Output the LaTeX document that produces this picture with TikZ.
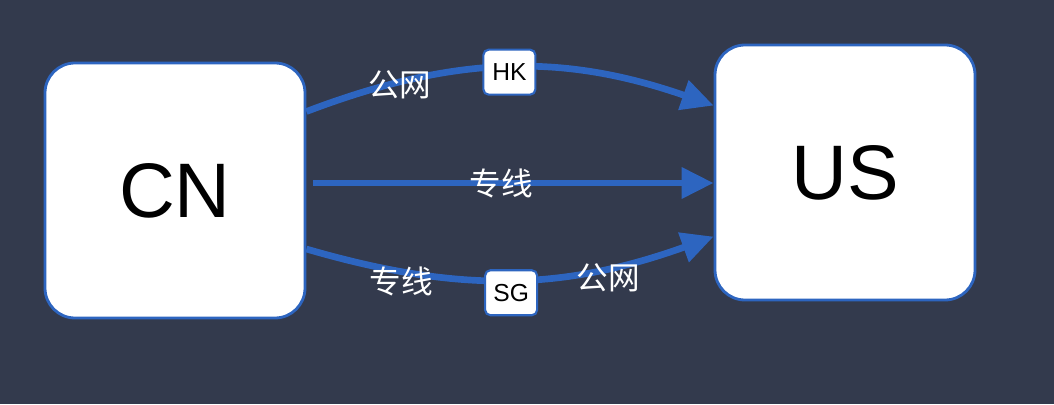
\documentclass[tikz,border=0pt]{standalone}
\usepackage{fontspec}
\setmainfont{Liberation Sans}
\newfontfamily\cjk{Noto Sans CJK SC}
\usetikzlibrary{arrows.meta,calc,positioning}

\definecolor{bgnavy}{HTML}{333A4D}
\definecolor{linkblue}{HTML}{2D65C0}

\begin{document}
\begin{tikzpicture}[
  >={Triangle[length=0.64cm, width=0.6cm]},
  region/.style={draw=linkblue, line width=1.6pt, fill=white, rounded corners=0.6cm,
                 minimum width=5.2cm, minimum height=5.1cm, font=\fontsize{44}{48}\selectfont},
  hop/.style={draw=linkblue, line width=1.2pt, fill=white, text=black, rounded corners=3pt,
              minimum width=1.04cm, minimum height=0.9cm, inner sep=1pt,
              font=\fontsize{14}{16}\selectfont},
  tag/.style={text=white, font=\cjk\fontsize{18}{20}\selectfont, inner sep=1pt},
  link/.style={->, linkblue, line width=3.8pt},
]

%% background and bounding box
\fill[bgnavy] (0,0) rectangle (21.08,8.08);
\useasboundingbox (0,0) rectangle (21.08,8.08);

%% regions
\node[region] (cn) at (3.5, 4.27)  {CN};
\node[region] (us) at (16.9, 4.63) {US};

%% via HK (public internet)
\draw[link] (cn.31) to[bend left=20]
    node[pos=0.22, tag, yshift=-0.05cm] (hknet) {公网}
    node[pos=0.5, hop, yshift=-0.09cm] (hk) {HK} (us.153);

%% direct line
\draw[link] ([xshift=0.14cm, yshift=0.15cm]cn.east) --
    node[pos=0.47, tag] (direct) {专线} ([yshift=0.15cm]cn.east -| us.west);

%% via SG (leased line, then public internet)
\draw[link] (cn.-24) to[bend right=18]
    node[pos=0.22, tag, yshift=-0.2cm] (sgline) {专线}
    node[pos=0.5, hop, yshift=-0.26cm] (sg) {SG}
    node[pos=0.75, tag, yshift=-0.2cm] (sgnet) {公网} (us.206);

\end{tikzpicture}
\end{document}
